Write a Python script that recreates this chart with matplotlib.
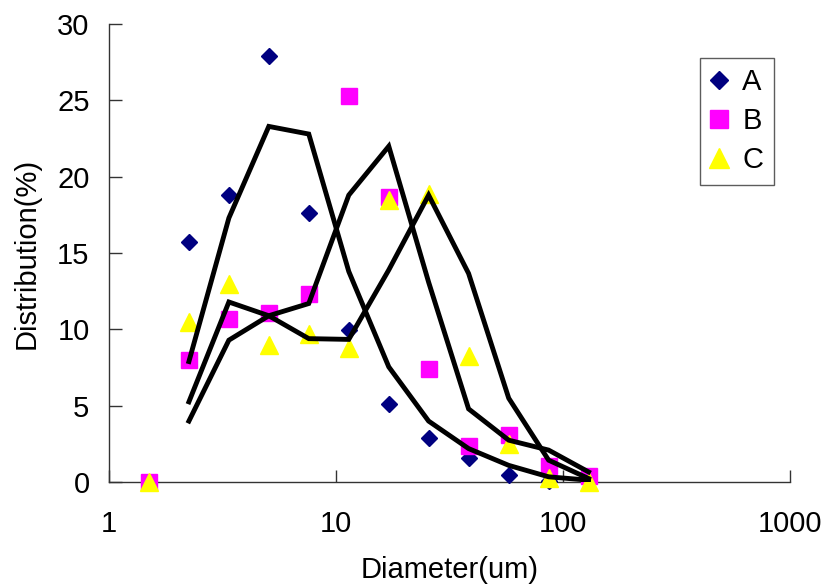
import matplotlib
matplotlib.use("Agg")
import matplotlib.pyplot as plt
from matplotlib.ticker import FixedLocator, NullLocator, FuncFormatter

plt.rcParams['font.family'] = ['Liberation Sans', 'DejaVu Sans']

# data
diameter = [1.5, 2.25, 3.375, 5.06, 7.59, 11.39, 17.09, 25.6, 38.4, 57.7, 86.5, 129.7]
a_vals = [0, 15.7, 18.8, 27.9, 17.6, 9.95, 5.15, 2.86, 1.55, 0.46, 0.05, 0]
b_vals = [0, 8.0, 10.7, 11.05, 12.35, 25.3, 18.7, 7.4, 2.36, 3.08, 1.05, 0.4]
c_vals = [0, 10.5, 13.0, 9.0, 9.7, 8.8, 18.5, 18.9, 8.25, 2.53, 0.24, 0]

fit_x = diameter[1:]
fit_a = [7.9, 17.3, 23.3, 22.8, 13.8, 7.55, 4.0, 2.2, 1.1, 0.35, 0.13]
fit_b = [4.0, 9.3, 10.9, 11.7, 18.8, 22.0, 13.1, 4.8, 2.75, 2.1, 0.67]
fit_c = [5.26, 11.8, 10.9, 9.4, 9.35, 13.9, 18.8, 13.67, 5.5, 1.44, 0.24]

fig = plt.figure(figsize=(8.28, 5.88), dpi=100)
ax = fig.add_axes([0.1316, 0.180, 0.8224, 0.779])

ax.plot(diameter, a_vals, linestyle='none', marker='D', ms=8.5, color='#000080',
        label='A', clip_on=False, zorder=3)
ax.plot(diameter, b_vals, linestyle='none', marker='s', ms=11.5, color='#FF00FF',
        label='B', clip_on=False, zorder=3)
ax.plot(diameter, c_vals, linestyle='none', marker='^', ms=12.5, color='#FFFF00',
        label='C', clip_on=False, zorder=3)

for fy in (fit_a, fit_b, fit_c):
    ax.plot(fit_x, fy, color='black', lw=3.5, solid_joinstyle='miter', zorder=4)

ax.set_xscale('log')
ax.set_xlim(1, 1000)
ax.set_ylim(0, 30)
ax.xaxis.set_major_locator(FixedLocator([1, 10, 100, 1000]))
ax.xaxis.set_minor_locator(NullLocator())
ax.xaxis.set_major_formatter(FuncFormatter(lambda v, p: '%g' % v))
ax.set_yticks([0, 5, 10, 15, 20, 25, 30])

for s in ('top', 'right'):
    ax.spines[s].set_visible(False)
for s in ('left', 'bottom'):
    ax.spines[s].set_color('#333333')
    ax.spines[s].set_linewidth(1)

ax.tick_params(axis='both', direction='in', length=9, width=1, colors='#333333',
               labelcolor='black', labelsize=21)
ax.tick_params(axis='x', pad=20)
ax.tick_params(axis='y', pad=14)

ax.set_xlabel('Diameter(um)', fontsize=21, labelpad=13)
ax.set_ylabel('Distribution(%)', fontsize=21, labelpad=12)

leg = ax.legend(loc='upper left', bbox_to_anchor=(0.868, 0.926), fontsize=21,
                frameon=True, fancybox=False, edgecolor='#333333',
                handlelength=0.6, handletextpad=0.5, borderpad=0.35,
                labelspacing=0.38, borderaxespad=0, markerscale=1.1)
leg.get_frame().set_linewidth(1)

fig.savefig('out.png', dpi=100)
